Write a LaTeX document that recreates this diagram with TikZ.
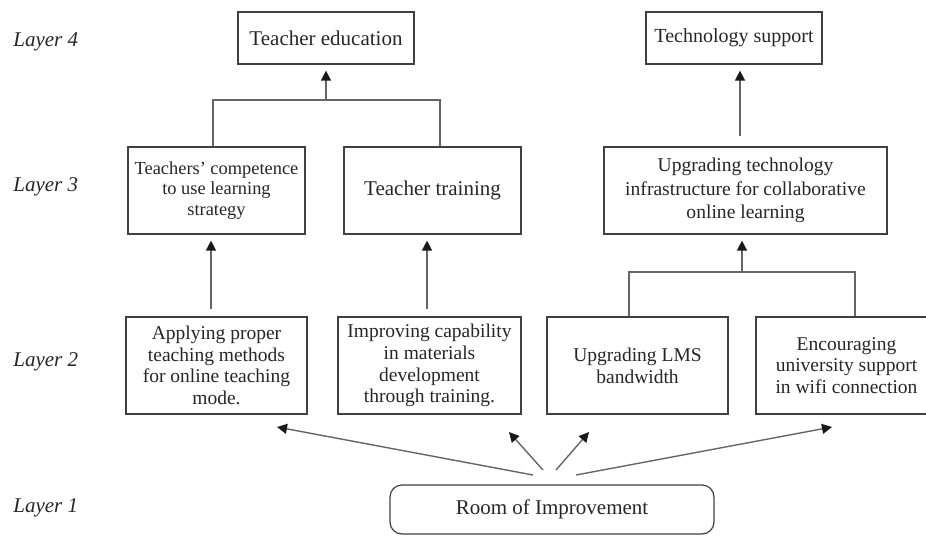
\documentclass[tikz,border=0pt]{standalone}
\usepackage{fontspec}
\setmainfont{Liberation Serif}
\usetikzlibrary{positioning, calc, arrows.meta}

\begin{document}
\begin{tikzpicture}[x=0.5pt, y=-0.5pt,
    box/.style={draw=black!75, line width=0.6pt, inner sep=0pt, align=center, text=black!85},
    layer/.style={anchor=west, inner sep=0pt, font=\fontsize{10.5}{12}\selectfont\itshape, text=black!85},
    conn/.style={draw=black!60, line width=0.7pt},
    arr/.style={conn, -{Triangle[length=5pt, width=5pt, color=black!90]}, shorten >=3pt},
    big/.style={font=\fontsize{10.5}{12}\selectfont},
    small/.style={font=\fontsize{9.75}{10.85}\selectfont}]
  \useasboundingbox (0,0) rectangle (926,536);

  % layer labels
  \node[layer] (l4) at (13,42) {Layer 4};
  \node[layer] (l3) at (13,187) {Layer 3};
  \node[layer] (l2) at (13,362) {Layer 2};
  \node[layer] (l1) at (13,508) {Layer 1};

  % layer 4
  \node[box, big, minimum width=88pt, minimum height=26pt] (tedu) at (326,38) {Teacher education};
  \node[box, font=\fontsize{10}{12}\selectfont, minimum width=88pt, minimum height=26pt] (tsup) at (734,38) {Technology support};

  % layer 3
  \node[box, font=\fontsize{9.2}{10.2}\selectfont, minimum width=88.5pt, minimum height=43.5pt] (comp) at (216.5,190.5)
    {Teachers' competence\\to use learning\\strategy};
  \node[box, big, minimum width=88.5pt, minimum height=43.5pt] (ttrain) at (432.5,190.5) {Teacher training};
  \node[box, font=\fontsize{9.8}{11.65}\selectfont, minimum width=141.5pt, minimum height=43.5pt] (infra) at (745.5,190.5)
    {Upgrading technology\\infrastructure for collaborative\\online learning};

  % layer 2
  \node[box, small, minimum width=90.5pt, minimum height=48.5pt] (apply) at (216.5,365.5)
    {Applying proper\\teaching methods\\for online teaching\\mode.};
  \node[box, small, minimum width=91.5pt, minimum height=48.5pt] (improve) at (429.5,365.5)
    {Improving capability\\in materials\\development\\through training.};
  \node[box, small, minimum width=90.5pt, minimum height=48.5pt] (lms) at (637.5,365.5)
    {Upgrading LMS\\bandwidth};
  \node[box, small, minimum width=90.5pt, minimum height=48.5pt] (enc) at (846.5,365.5)
    {Encouraging\\university support\\in wifi connection};

  % layer 1
  \node[box, big, rounded corners=6pt, minimum width=162pt, minimum height=24.5pt] (room) at (552,509.5) {Room of Improvement};

  % layer 3 -> layer 4
  \coordinate (j1) at (326,100);
  \draw[conn] ([xshift=-1.75pt]comp.north) |- (j1) -| ([xshift=3.75pt]ttrain.north);
  \draw[arr] (j1) -- (tedu.south);
  \draw[arr, shorten <=5pt] ([xshift=-2.75pt]infra.north) -- ([xshift=-2.75pt]infra.north |- tsup.south);

  % layer 2 -> layer 3
  \draw[arr, shorten <=3.5pt] ([xshift=-2.75pt]apply.north) -- ([xshift=-2.75pt]apply.north |- comp.south);
  \draw[arr, shorten <=3.5pt] ([xshift=-1.25pt]improve.north) -- ([xshift=-1.25pt]improve.north |- ttrain.south);
  \coordinate (j2) at (742,272);
  \draw[conn] ([xshift=-4.25pt]lms.north) |- (j2) -| ([xshift=4.25pt]enc.north);
  \draw[arr] (j2) -- (j2 |- infra.south);

  % layer 1 -> layer 2
  \coordinate (r1) at (533,475);
  \coordinate (r2) at (543,470);
  \coordinate (r3) at (556,470);
  \coordinate (r4) at (576,475);
  \coordinate (t1) at (277,427);
  \coordinate (t2) at (509,432);
  \coordinate (t3) at (589,432);
  \coordinate (t4) at (832,427);
  \foreach \i in {1,...,4}
    \draw[arr, shorten >=0pt] (r\i) -- (t\i);
\end{tikzpicture}
\end{document}
